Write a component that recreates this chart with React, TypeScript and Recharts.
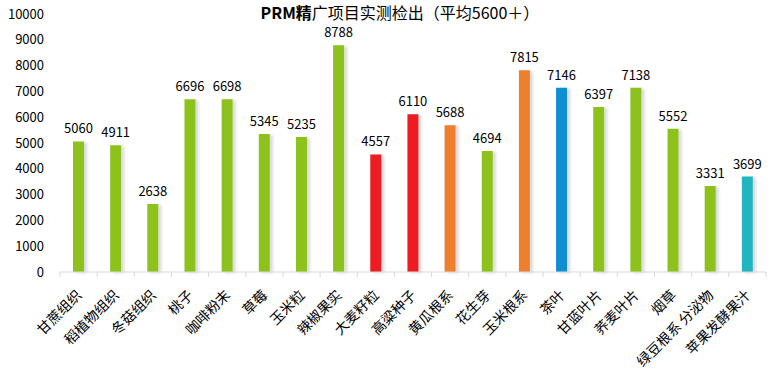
import React from 'react';
import { BarChart, Bar, XAxis, YAxis, Cell, LabelList } from 'recharts';

const categories = ['甘蔗组织', '稻植物组织', '冬菇组织', '桃子', '咖啡粉末', '草莓', '玉米粒', '辣椒果实', '大麦籽粒', '高粱种子', '黄瓜根系', '花生芽', '玉米根系', '茶叶', '甘蓝叶片', '荞麦叶片', '烟草', '绿豆根系 分泌物', '苹果发酵果汁'];
const values = [5060, 4911, 2638, 6696, 6698, 5345, 5235, 8788, 4557, 6110, 5688, 4694, 7815, 7146, 6397, 7138, 5552, 3331, 3699];
const colorKeys = ['g', 'g', 'g', 'g', 'g', 'g', 'g', 'g', 'r', 'r', 'o', 'g', 'o', 'b', 'g', 'g', 'g', 'g', 't'];
const yTicks = [0, 1000, 2000, 3000, 4000, 5000, 6000, 7000, 8000, 9000, 10000];

const palette: Record<string, string> = {
  g: '#8DC21F',
  r: '#EC1C24',
  o: '#EE7F2D',
  b: '#0A8FD0',
  t: '#23B5C0',
};

const data = categories.map((name, i) => ({ name, value: values[i], c: colorKeys[i] }));

const FONT = '"Noto Sans CJK SC", "Noto Sans", sans-serif';
const BAND = (766 - 60) / categories.length;

const XTick = (props: any) => {
  const { x, y, payload, index } = props;
  const left = x - BAND / 2;
  const right = x + BAND / 2;
  return (
    <g>
      <line x1={left} y1={y - 8} x2={left} y2={y - 3} stroke="#d9d9d9" />
      {index === categories.length - 1 && (
        <line x1={right} y1={y - 8} x2={right} y2={y - 3} stroke="#d9d9d9" />
      )}
      <text
        transform={`translate(${x - 5}, ${y + 7}) rotate(-45)`}
        textAnchor="end"
        fontSize={14}
        fontFamily={FONT}
        fill="#000"
        dominantBaseline="hanging"
      >
        {payload.value}
      </text>
    </g>
  );
};

export default function App() {
  return (
    <div style={{ position: 'absolute', left: 0, top: 0, width: 773, height: 372, background: '#fff' }}>
      <svg width={0} height={0} style={{ position: 'absolute' }}>
        <defs>
          <filter id="barShadow" x="-50%" y="-10%" width="200%" height="120%">
            <feDropShadow dx={3} dy={1} stdDeviation={1.5} floodColor="#000" floodOpacity={0.15} />
          </filter>
        </defs>
      </svg>
      <div
        style={{
          position: 'absolute',
          left: 0,
          top: 0,
          width: 800,
          textAlign: 'center',
          fontFamily: FONT,
          fontSize: 16,
          lineHeight: '24px',
          color: '#000',
          whiteSpace: 'nowrap',
        }}
      >
        <span style={{ fontWeight: 700 }}>PRM精</span>
        <span>广项目实测检出（平均5600＋）</span>
      </div>
      <BarChart
        width={773}
        height={372}
        data={data}
        margin={{ top: 14, right: 7, left: 0, bottom: 0 }}
      >
        <YAxis
          domain={[0, 10000]}
          ticks={yTicks}
          axisLine={false}
          tickLine={false}
          width={60}
          tick={{ fontSize: 13, fill: '#000', fontFamily: FONT }}
          tickMargin={10}
          interval={0}
        />
        <XAxis
          dataKey="name"
          height={100}
          axisLine={{ stroke: '#d9d9d9' }}
          tickLine={false}
          interval={0}
          tick={<XTick />}
        />
        <Bar dataKey="value" barSize={11} isAnimationActive={false}>
          {data.map((d, i) => (
            <Cell key={i} fill={palette[d.c]} filter="url(#barShadow)" />
          ))}
          <LabelList
            dataKey="value"
            position="top"
            offset={8}
            style={{ fontSize: 13, fill: '#000', fontFamily: FONT }}
          />
        </Bar>
      </BarChart>
    </div>
  );
}
